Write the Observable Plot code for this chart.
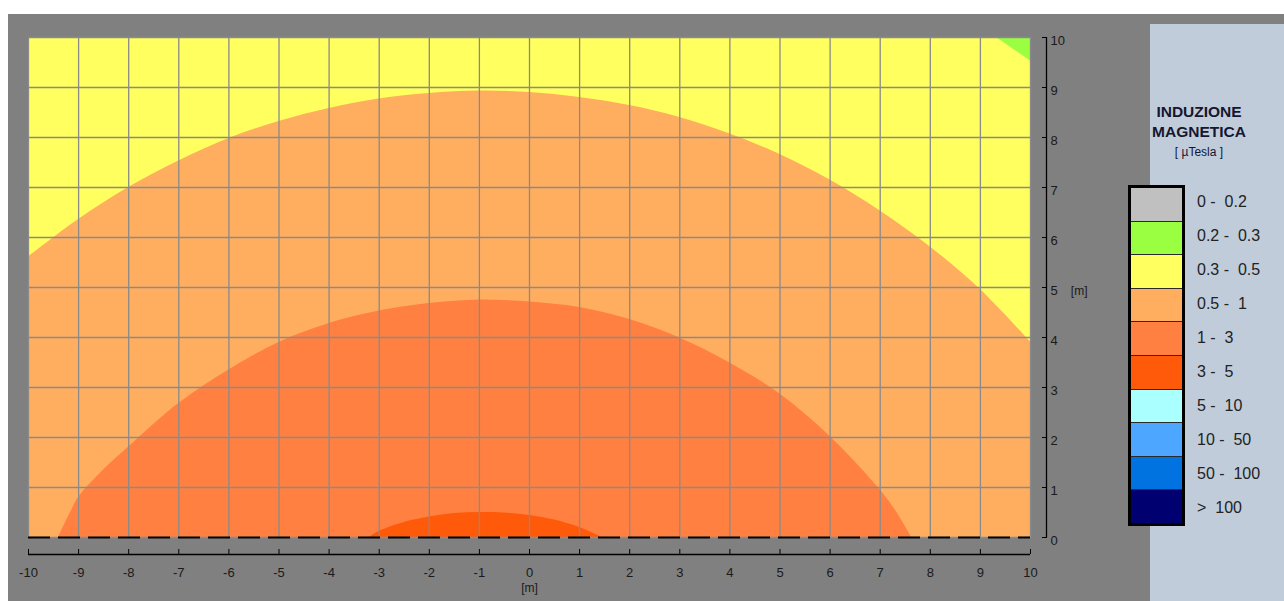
<!DOCTYPE html>
<html><head><meta charset="utf-8">
<script src="https://cdn.jsdelivr.net/npm/d3@7"></script>
<script src="https://cdn.jsdelivr.net/npm/@observablehq/plot@0.6"></script>
<style>
html,body{margin:0;padding:0;background:#fff;width:1284px;height:601px;overflow:hidden;font-family:"Liberation Sans",Arial,sans-serif;}
#bg{position:absolute;left:8px;top:14px;width:1276px;height:587px;background:#808080;}
#chart{position:absolute;left:0;top:0;}
#panel{position:absolute;left:1150px;top:24px;width:134px;height:577px;background:#c0ccda;}
#ltitle{position:absolute;left:1139px;top:102px;width:120px;text-align:center;color:#161630;}
#ltitle div{line-height:20px;height:20px;}
#lbox{position:absolute;left:1128px;top:185px;width:57px;height:341px;box-sizing:border-box;border:3px solid #000;display:flex;flex-direction:column;}
#lbox div{flex:1;border-bottom:1.5px solid #2a2a2a;}
#lbox div:last-child{border-bottom:none;}
.llab{position:absolute;left:1197px;font-size:16px;line-height:20px;white-space:pre;color:#222;}
</style></head>
<body>
<div id="bg"></div>
<div id="panel"></div>
<div id="chart"></div>
<div id="ltitle"><div style="font-weight:bold;font-size:15.5px;">INDUZIONE</div><div style="font-weight:bold;font-size:15.5px;">MAGNETICA</div><div style="font-size:12px;">[ µTesla ]</div></div>
<div id="lbox"></div>
<script>
// ---- data ----
const legendLabels = ["0 -  0.2", "0.2 -  0.3", "0.3 -  0.5", "0.5 -  1", "1 -  3", "3 -  5", "5 -  10", "10 -  50", "50 -  100", ">  100"];
const legendColors = ["#c0c0c0", "#99ff40", "#ffff60", "#ffae60", "#ff8040", "#ff5a0a", "#aaffff", "#4da6ff", "#0073e0", "#000070"];
const xTicks = [-10, -9, -8, -7, -6, -5, -4, -3, -2, -1, 0, 1, 2, 3, 4, 5, 6, 7, 8, 9, 10];
const yTicks = [0, 1, 2, 3, 4, 5, 6, 7, 8, 9, 10];
// boundary 0.5 µT (yellow / light orange)
const arc05X = [-10, -9, -8, -7, -6, -5, -4, -3, -2, -1, 0, 1, 2, 3, 4, 5, 6, 7, 8, 9, 10];
const arc05Y = [5.61, 6.36, 7.0, 7.53, 7.98, 8.32, 8.58, 8.77, 8.88, 8.93, 8.9, 8.8, 8.64, 8.4, 8.07, 7.66, 7.15, 6.53, 5.81, 4.96, 3.91];
// boundary 1 µT
const arc1X = [-9.40, -9.3, -9.15, -9, -8.5, -8, -7, -6, -5, -4, -3, -2, -1, 0, 1, 2, 3, 4, 5, 6, 7, 7.3, 7.63];
const arc1Y = [0, 0.22, 0.52, 0.8, 1.35, 1.81, 2.68, 3.35, 3.9, 4.28, 4.53, 4.68, 4.75, 4.71, 4.6, 4.36, 3.99, 3.49, 2.87, 2.02, 0.95, 0.55, 0];
// boundary 3 µT
const arc3X = [-3.2, -3, -2.5, -2, -1.5, -1, -0.5, 0, 0.5, 1, 1.45];
const arc3Y = [0, 0.12, 0.30, 0.41, 0.48, 0.5, 0.49, 0.44, 0.35, 0.2, 0];
// boundary 0.3 µT (top-right corner)
const arc03X = [9.32, 10];
const arc03Y = [10, 9.53];

const pts = (xs, ys) => xs.map((x, i) => ({x, y: ys[i]}));
const FONT = "'Liberation Sans', Arial, sans-serif";
const fmt = d => String(d);

const chart = Plot.plot({
  width: 1284, height: 601,
  marginLeft: 28, marginRight: 254, marginTop: 37, marginBottom: 64,
  x: {domain: [-10, 10]},
  y: {domain: [0, 10]},
  style: {background: "transparent", fontFamily: FONT, fontSize: "13px", color: "#111", overflow: "visible"},
  marks: [
    Plot.frame({fill: legendColors[2], stroke: "none"}),
    Plot.areaY(pts(arc05X, arc05Y), {x: "x", y: "y", fill: legendColors[3], curve: "catmull-rom", clip: true}),
    Plot.areaY(pts(arc1X, arc1Y), {x: "x", y: "y", fill: legendColors[4], curve: "catmull-rom", clip: true}),
    Plot.areaY(pts(arc3X, arc3Y), {x: "x", y: "y", fill: legendColors[5], curve: "catmull-rom", clip: true}),
    Plot.areaY(pts(arc03X, arc03Y), {x: "x", y1: "y", y2: 10, fill: legendColors[1], clip: true}),
    Plot.gridX(xTicks, {stroke: "#8a8a8a", strokeOpacity: 1, strokeWidth: 1.3}),
    Plot.gridY(yTicks, {stroke: "#8a8a8a", strokeOpacity: 1, strokeWidth: 1.3}),
    Plot.ruleY([0], {stroke: "#000", strokeWidth: 2, strokeDasharray: "22,8"}),
    Plot.axisX(xTicks, {anchor: "bottom", dy: 12, tickSize: 5, tickPadding: 13, tickFormat: fmt, label: null, stroke: "#000", fill: "#1a1a1a"}),
    Plot.ruleY([0], {dy: 17, stroke: "#000", strokeWidth: 1.3}),
    Plot.axisY(yTicks, {anchor: "right", dx: 11, tickSize: 5, tickFormat: () => "", label: null, stroke: "#000"}),
    Plot.axisY(yTicks, {anchor: "right", dx: 11, dy: 3, tickSize: 0, tickPadding: 9, tickFormat: fmt, label: null, fill: "#1a1a1a"}),
    Plot.ruleX([10], {dx: 16, stroke: "#000", strokeWidth: 1.3}),
    Plot.text(["[m]"], {frameAnchor: "bottom", dy: 54, fontSize: 12, fill: "#1a1a1a"}),
    Plot.text(["[m]"], {frameAnchor: "right", dx: 57, dy: 4, fontSize: 12, fill: "#1a1a1a"})
  ]
});
document.getElementById("chart").appendChild(chart);

const box = document.getElementById("lbox");
legendColors.forEach((c, i) => {
  const d = document.createElement("div");
  d.style.background = c;
  box.appendChild(d);
  const l = document.createElement("div");
  l.className = "llab";
  l.style.top = (192 + i * 34) + "px";
  l.textContent = legendLabels[i];
  document.body.appendChild(l);
});
</script>
</body></html>
